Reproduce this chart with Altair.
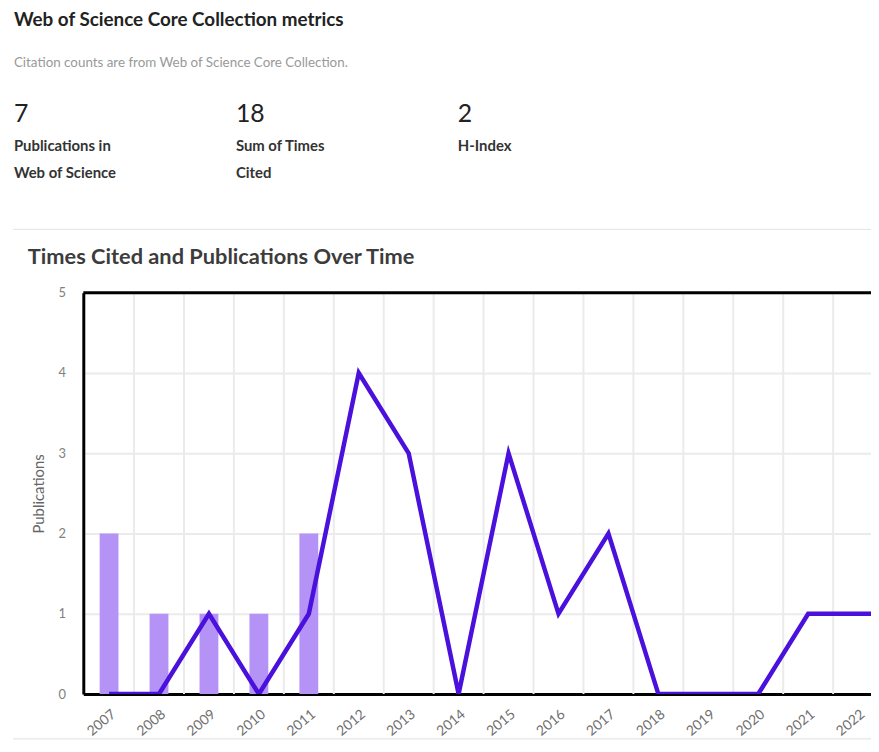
import altair as alt
import pandas as pd

# ---- data ----
years = list(range(2007, 2024))
times_cited = [0, 0, 1, 0, 1, 4, 3, 0, 3, 1, 2, 0, 0, 0, 1, 1, 1]
pub_years = [2007, 2008, 2009, 2010, 2011]
publications = [2, 1, 1, 1, 2]
tick_years = list(range(2007, 2023))
y_ticks = [0, 1, 2, 3, 4, 5]

header_title = "Web of Science Core Collection metrics"
header_note = "Citation counts are from Web of Science Core Collection."
metric_values = ["7", "18", "2"]
metric_labels = [["Publications in", "Web of Science"], ["Sum of Times", "Cited"], ["H-Index"]]
chart_title = "Times Cited and Publications Over Time"

# ---- layout ----
W, H = 795, 405
PAD_L, PAD_T, PAD_B = 76, 284, 47
X_DOMAIN = [2006.484, 2022.258]
FONT = "Lato"

cited_df = pd.DataFrame({"year": years, "cited": times_cited})
pub_df = pd.DataFrame({"year": pub_years, "pubs": publications})
grid_df = pd.DataFrame({"year": [y + 0.5 for y in tick_years]})
one = pd.DataFrame({"k": [0]})

x_scale = alt.Scale(domain=X_DOMAIN, nice=False, zero=False, padding=0)
y_scale = alt.Scale(domain=[0, 5], nice=False, zero=True)

x_axis = alt.Axis(values=tick_years, format="d", labelAngle=320, labelAlign="right",
                  labelBaseline="top", labelPadding=13, ticks=False, tickSize=0, grid=False,
                  domainColor="black", domainWidth=3, labelColor="#707070", labelFont=FONT,
                  labelFontSize=14, title=None, labelOverlap=False, labelFlush=False,
                  labelBound=False)
y_axis = alt.Axis(values=y_ticks, title="Publications", grid=True, gridColor="#ebebeb",
                  gridWidth=2, ticks=False, tickSize=0, domainColor="black", domainWidth=3,
                  labelColor="#808080", labelFont=FONT, labelFontSize=13, labelPadding=18,
                  titleColor="#666666", titleFont=FONT, titleFontSize=15,
                  titleFontWeight="normal", titlePadding=12)

X = alt.X("year:Q", scale=x_scale, axis=x_axis)

grid = alt.Chart(grid_df).mark_rule(color="#ebebeb", strokeWidth=2, clip=True).encode(x=X)

bars = alt.Chart(pub_df).mark_bar(color="#b592f6", size=19).encode(
    x=X, y=alt.Y("pubs:Q", scale=y_scale, axis=y_axis))

top_frame = alt.Chart(one).mark_rule(color="black", strokeWidth=3).encode(
    x=alt.value(0), x2=alt.value(W), y=alt.value(0))

line = alt.Chart(cited_df).mark_line(color="#4a10dc", strokeWidth=4.5, clip=True).encode(
    x=X, y=alt.Y("cited:Q", scale=y_scale, axis=y_axis))

sep = alt.Chart(one).mark_rule(color="#e3e3e3", strokeWidth=1).encode(
    x=alt.value(-71), x2=alt.value(W), y=alt.value(-64))
bottom_sep = alt.Chart(one).mark_rule(color="#eeeeee", strokeWidth=2).encode(
    x=alt.value(-71), x2=alt.value(W), y=alt.value(450))


def txt(s, x, y, size, color, weight="normal"):
    return alt.Chart(one).mark_text(align="left", baseline="alphabetic", font=FONT,
                                    fontSize=size, fontWeight=weight, color=color).encode(
        x=alt.value(x), y=alt.value(y), text=alt.value(s))


texts = [
    txt(header_title, -70, -269, 19, "#222222", "bold"),
    txt(header_note, -70, -228, 13.5, "#999999"),
    txt(chart_title, -56, -29, 22, "#3c3c3c", "bold"),
]
metric_x = [-70, 154, 378]
for mx, v, labs in zip(metric_x, metric_values, metric_labels):
    texts.append(txt(v, mx, -172, 25, "#222222"))
    for i, lab in enumerate(labs):
        texts.append(txt(lab, mx, -143 + 27 * i, 15, "#333333", "bold"))

chart = alt.layer(grid, bars, top_frame, line, sep, bottom_sep, *texts).properties(
    width=W, height=H,
    autosize=alt.AutoSizeParams(type="none"),
    padding={"left": PAD_L, "top": PAD_T, "right": 0, "bottom": PAD_B},
).configure_view(stroke=None).configure(font=FONT)

chart.save("out.html", embed_options={"renderer": "svg", "actions": False})
